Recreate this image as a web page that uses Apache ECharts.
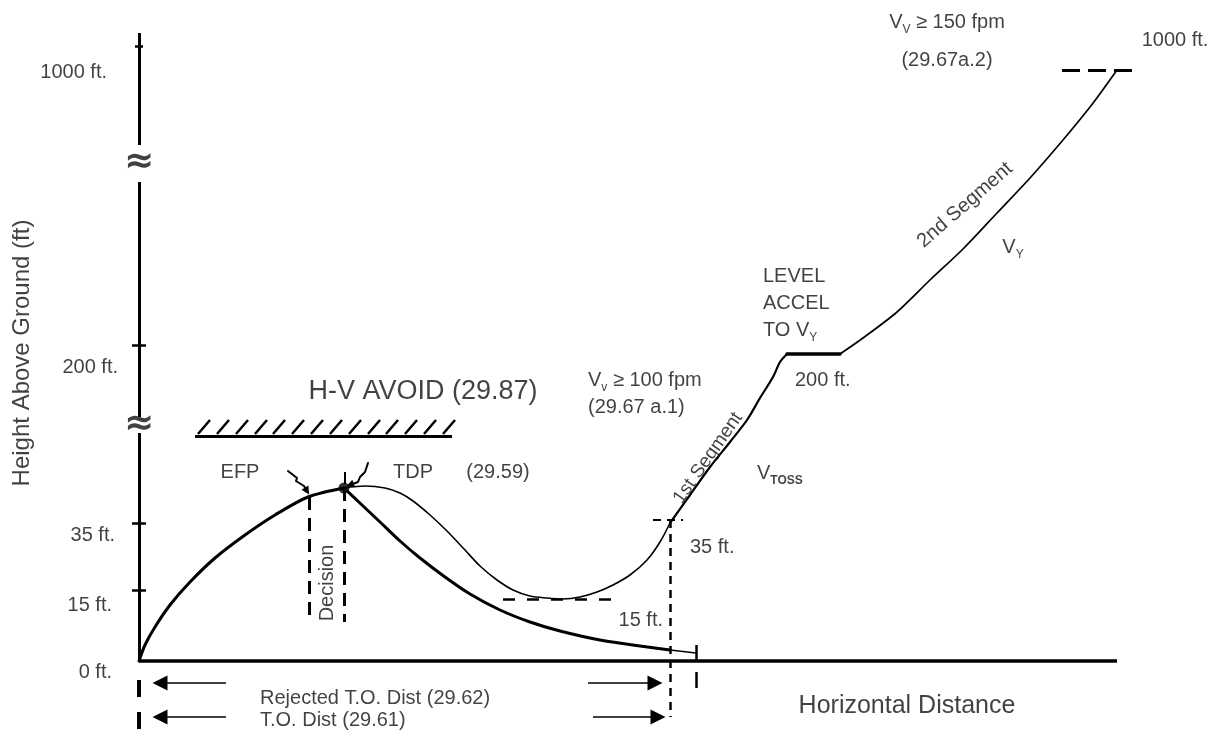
<!DOCTYPE html>
<html>
<head>
<meta charset="utf-8">
<script src="https://cdn.jsdelivr.net/npm/echarts@6/dist/echarts.min.js"></script>
<style>
  html, body { margin: 0; background: #fff; }
  #chart { width: 1220px; height: 738px; }
</style>
</head>
<body>
<div id="chart"></div>
<script>
// schematic units: x = distance from brake release, y = plotted height (axis is broken)
const takeoffArc = [[0, 0], [6, 16], [16, 34], [31, 56], [51, 79], [76, 103], [106, 126], [136, 146], [169, 164], [205, 173]]
const rejectArc = [[205, 173], [223, 156], [241, 139], [261, 120], [281, 103], [306, 84], [331, 67], [361, 51], [391, 39], [421, 30], [461, 21], [501, 15], [531, 11]]
const rejectTail = [[531, 11], [557, 8]]
const tdpCurve = [[205, 173], [226, 175], [246, 173], [261, 168], [274, 160], [291, 146], [308, 130], [326, 111], [341, 95], [358, 81], [374, 71], [391, 65], [408, 63], [424, 62], [441, 64], [458, 69], [474, 76], [491, 86], [508, 101], [521, 119], [531, 138]]
const firstSegment = [[531, 138], [551, 166], [571, 194], [591, 219], [608, 241], [621, 263], [634, 284], [641, 299], [648, 307]]
const levelAccel = [[648, 307], [701, 307]]
const secondSegment = [[701, 307], [724, 323], [758, 349], [791, 381], [824, 412], [858, 448], [891, 483], [924, 521], [951, 554], [968, 577], [978, 591]]

// height axis
const yTickPos = [71, 138, 316, 615]
const yTickLabels = ['0 ft.', '15 ft.', '35 ft.', '200 ft.', '1000 ft.']
const yLabelPos = [-11, 56, 126, 294, 589]
const yLabelRight = [-27, -27, -24, -21, -32]
const yAxisPieces = [[0, 228], [244, 479], [516, 628]]
const axisBreaks = [236, 498]
const groundEnd = 978

// H-V avoid zone
const avoidLine = [56, 313]
const avoidHeight = 225
const hatchX = [59, 78, 97, 116, 134, 153, 172, 191, 210, 229, 247, 266, 285, 304]

// reference marks
const decisionX = [170, 205]
const decisionTop = [164, 173]
const decisionBottom = 39
const tdpPoint = [205, 173]
const gate15 = [364, 483, 62]
const gate35X = 531
const gate35Top = 141
const gate1000 = [923, 999, 591]
const rejectStopX = 557
const distRows = [-22, -56]

const INK = '#000'
const TXT = '#111'
const FONT = '"Liberation Sans", Arial, Helvetica, sans-serif'

const chart = echarts.init(document.getElementById('chart'))

function path(data, width, smooth) {
  return {
    type: 'line', data, symbol: 'none', showSymbol: false,
    smooth: smooth === undefined ? 0.3 : smooth,
    lineStyle: { color: INK, width, cap: 'round', join: 'round' },
    silent: true, animation: false, z: 3
  }
}

function segs(pairs, style, extra) {
  return {
    type: 'line', data: [], silent: true, animation: false, z: 2,
    markLine: Object.assign({
      silent: true, animation: false, symbol: 'none',
      label: { show: false },
      lineStyle: Object.assign({ color: INK, width: 2, type: 'solid' }, style),
      data: pairs.map(p => [{ coord: p[0] }, { coord: p[1] }])
    }, extra || {})
  }
}

function richFor(size) {
  const sub = Math.round(size * 0.6)
  return {
    v: { fontSize: size, fontFamily: FONT, color: TXT, lineHeight: Math.round(size * 1.33) },
    sub: { fontSize: sub, fontFamily: FONT, color: TXT, lineHeight: sub, verticalAlign: 'bottom' },
    subb: { fontSize: sub, fontFamily: FONT, fontWeight: 'bold', color: TXT, lineHeight: sub, verticalAlign: 'bottom' }
  }
}

function note(x, y, text, o) {
  o = o || {}
  const size = o.size || 20
  return {
    value: [x, y],
    label: {
      show: true, position: 'inside', formatter: text,
      align: o.align || 'center', verticalAlign: 'middle',
      rotate: o.rotate || 0,
      fontSize: size, fontFamily: o.family || FONT, color: TXT,
      fontWeight: o.weight || 'normal',
      rich: richFor(size)
    }
  }
}

const notes = [
  note(284, 269, 'H-V AVOID (29.87)', { size: 27 }),
  note(101, 189, 'EFP'),
  note(274, 189, 'TDP'),
  note(359, 189, '(29.59)'),
  note(188, 78, 'Decision', { rotate: 90 }),
  note(569, 203, '1st Segment', { size: 19, rotate: 55 }),
  note(826, 456, '2nd Segment', { rotate: 41 }),
  note(874, 414, '{v|V}{sub|Y}'),
  note(808, 639, '{v|V}{sub|V}{v| ≥ 150 fpm}'),
  note(808, 601, '(29.67a.2)'),
  note(1036, 621, '1000 ft.'),
  note(768, -45, 'Horizontal Distance', { size: 25 }),
  note(-117, 308, 'Height Above Ground (ft)', { size: 24, rotate: 90 }),
  note(449, 281, '{v|V}{sub|v}{v| ≥ 100 fpm}', { align: 'left' }),
  note(449, 254, '(29.67 a.1)', { align: 'left' }),
  note(624, 358, '{v|LEVEL}\n{v|ACCEL}\n{v|TO V}{sub|Y}', { align: 'left' }),
  note(656, 281, '200 ft.', { align: 'left' }),
  note(618, 188, '{v|V}{subb|TOSS}', { align: 'left' }),
  note(551, 114, '35 ft.', { align: 'left' }),
  note(121, -37, 'Rejected T.O. Dist (29.62)', { align: 'left' }),
  note(121, -59, 'T.O. Dist (29.61)', { align: 'left' }),
  note(524, 41, '15 ft.', { align: 'right' })
]
yTickLabels.forEach((t, i) => notes.push(note(yLabelRight[i], yLabelPos[i], t, { align: 'right' })))
axisBreaks.forEach(y => notes.push(note(0, y, '≈', { size: 36, weight: 'bold', family: '"DejaVu Sans", sans-serif' })))

const option = {
  animation: false,
  backgroundColor: '#fff',
  grid: { left: 0, right: 0, top: 0, bottom: 0 },
  xAxis: { type: 'value', min: -139, max: 1081, show: false },
  yAxis: { type: 'value', min: -77, max: 661, show: false },
  series: [
    // axes
    segs(yAxisPieces.map(p => [[0, p[0]], [0, p[1]]]), { width: 3 }),
    segs([[[0, 0], [groundEnd, 0]]], { width: 3.5 }),
    segs(yTickPos.map((y, i) => i === 3 ? [[-4, y], [4, y]] : [[-7, y], [7, y]]), { width: 2.5 }),

    // H-V avoid zone
    segs([[[avoidLine[0], avoidHeight], [avoidLine[1], avoidHeight]]], { width: 3 }),
    segs(hatchX.map(x => [[x, avoidHeight + 2], [x + 12, avoidHeight + 16]]), { width: 2.5 }),

    // flight paths
    path(takeoffArc, 3),
    path(rejectArc, 3),
    path(rejectTail, 1.6, false),
    path(tdpCurve, 1.6),
    path(firstSegment, 2.2),
    path(levelAccel, 3.5, false),
    path(secondSegment, 1.7),

    // dashed reference lines
    segs(decisionX.map((x, i) => [[x, decisionTop[i]], [x, decisionBottom]]), { width: 3, type: [13, 8] }),
    segs([[[gate15[0], gate15[2]], [gate15[1], gate15[2]]]], { width: 2.5, type: [12, 12] }),
    segs([[[gate35X, gate35Top], [gate35X, -56]]], { width: 2.5, type: [8, 6] }),
    segs([[[gate35X - 17, gate35Top], [gate35X + 13, gate35Top]]], { width: 2, type: [8, 6] }),
    segs([[[gate1000[0], gate1000[2]], [gate1000[1], gate1000[2]]]], { width: 3, type: [18, 8] }),
    segs([[[0, -19], [0, -69]]], { width: 4, type: [17, 15] }),
    segs([[[rejectStopX, 16], [rejectStopX, 0]], [[rejectStopX, -11], [rejectStopX, -27]]], { width: 2.5 }),

    // distance arrows
    segs(distRows.map(y => [[87, y], [21, y]]), { width: 1.6 }, { symbol: ['none', 'triangle'], symbolSize: 15 }),
    segs([[[449, distRows[0]], [516, distRows[0]]], [[454, distRows[1]], [519, distRows[1]]]], { width: 1.6 },
      { symbol: ['none', 'triangle'], symbolSize: 15 }),

    // EFP / TDP pointers
    path([[149, 190], [158, 183], [157, 180], [165, 175]], 2, false),
    segs([[[165, 175], [168, 170]]], { width: 2 }, { symbol: ['none', 'triangle'], symbolSize: 8 }),
    path([[229, 198], [226, 189], [221, 184], [219, 179]], 2, false),
    segs([[[219, 179], [211, 176]]], { width: 2 }, { symbol: ['none', 'triangle'], symbolSize: 8 }),
    segs([[[206, 189], [206, 177]]], { width: 2 }),

    // tdp dot
    {
      type: 'scatter', data: [tdpPoint], symbolSize: 11, silent: true, animation: false, z: 4,
      itemStyle: { color: INK }
    },

    // text
    {
      type: 'scatter', data: notes, symbolSize: 1, silent: true, animation: false, z: 6,
      itemStyle: { color: 'transparent' }
    }
  ]
}

chart.setOption(option)
</script>
</body>
</html>
